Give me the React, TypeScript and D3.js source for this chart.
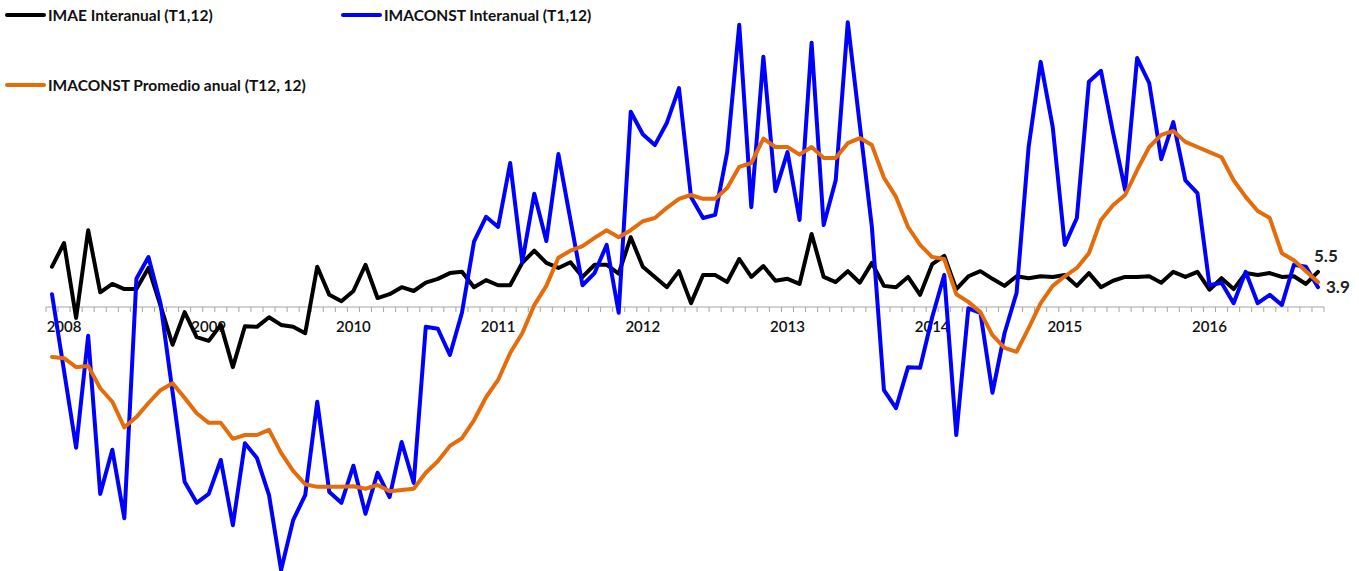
import { useEffect, useRef } from 'react';
import * as d3 from 'd3';

// monthly series, Jan 2008 .. Oct 2016
const imae = [
  6.3, 10.0, -1.7, 12.0, 2.3, 3.6, 2.8, 2.8, 6.1, 0.2, -5.9, -0.8,
  -4.7, -5.3, -2.8, -9.4, -3.0, -3.1, -1.6, -2.8, -3.1, -4.1, 6.3, 1.9,
  0.9, 2.5, 6.6, 1.4, 2.0, 3.1, 2.5, 3.8, 4.4, 5.3, 5.5, 3.1,
  4.2, 3.4, 3.4, 6.9, 8.8, 6.9, 6.1, 7.0, 4.7, 6.6, 6.6, 5.2,
  10.9, 6.3, 4.7, 3.1, 5.6, 0.6, 5.0, 5.0, 3.9, 7.5, 4.7, 6.4,
  4.1, 4.4, 3.6, 11.4, 4.7, 3.9, 5.6, 3.8, 6.9, 3.3, 3.1, 4.7,
  1.9, 6.7, 8.0, 2.8, 4.8, 5.6, 4.4, 3.3, 4.8, 4.5, 4.8, 4.7,
  5.0, 3.3, 5.3, 3.1, 4.1, 4.7, 4.7, 4.8, 3.8, 5.5, 4.7, 5.5,
  2.7, 4.5, 2.8, 5.3, 5.0, 5.3, 4.7, 4.8, 3.6, 5.5,
];

const imaconst = [
  2.0, -10.0, -22.0, -4.5, -29.2, -22.3, -33.0, 4.4, 7.8, 0.6, -13.3, -27.3,
  -30.6, -29.2, -23.9, -34.1, -21.3, -23.6, -29.4, -41.1, -33.3, -29.4, -14.8, -28.9,
  -30.6, -24.8, -32.3, -25.9, -29.7, -21.1, -27.5, -3.1, -3.4, -7.5, -0.9, 10.2,
  14.1, 12.5, 22.5, 7.0, 17.7, 10.3, 23.9, 13.6, 3.4, 5.3, 9.7, -0.9,
  30.5, 27.0, 25.3, 28.8, 34.2, 17.2, 13.9, 14.4, 24.2, 44.1, 15.6, 39.1,
  18.1, 24.2, 13.6, 41.3, 12.8, 19.8, 44.5, 28.4, 12.5, -13.0, -15.8, -9.4,
  -9.5, -1.6, 5.0, -20.0, -0.2, -0.9, -13.4, -4.1, 2.2, 25.0, 38.3, 28.1,
  9.7, 13.9, 35.2, 36.9, 27.3, 18.3, 38.9, 35.0, 23.1, 28.9, 19.8, 17.8,
  3.4, 3.8, 0.6, 5.5, 0.6, 1.9, 0.3, 6.6, 6.3, 3.1,
];

const imaconstProm = [
  -7.8, -8.0, -9.4, -9.2, -12.7, -14.8, -18.8, -17.2, -15.0, -13.0, -11.9, -14.2,
  -16.6, -18.1, -18.1, -20.6, -20.0, -20.0, -19.2, -22.8, -25.6, -27.7, -28.1, -28.1,
  -28.1, -28.0, -28.4, -27.8, -28.8, -28.6, -28.4, -25.9, -24.1, -21.7, -20.5, -17.7,
  -14.1, -11.4, -7.2, -4.1, 0.3, 3.3, 7.7, 8.8, 9.5, 10.8, 12.0, 10.9,
  12.0, 13.4, 13.9, 15.5, 16.9, 17.5, 16.9, 16.9, 18.6, 21.9, 22.5, 26.3,
  25.0, 25.0, 23.8, 25.0, 23.3, 23.3, 25.6, 26.4, 25.3, 20.2, 17.2, 12.5,
  9.7, 7.8, 7.5, 2.0, 0.8, -0.8, -4.4, -6.4, -7.0, -3.3, 0.6, 3.3,
  4.8, 6.1, 8.4, 13.6, 15.9, 17.5, 21.4, 25.0, 26.9, 27.5, 25.8, 25.0,
  24.2, 23.4, 19.8, 17.2, 15.0, 13.9, 8.4, 7.3, 5.6, 3.9,
];

const yearLabels = ['2008', '2009', '2010', '2011', '2012', '2013', '2014', '2015', '2016'];
const yearLabelIdx = [1, 13, 25, 37, 49, 61, 73, 84, 96];

const seriesNames = ['IMAE Interanual (T1,12)', 'IMACONST Interanual (T1,12)', 'IMACONST Promedio anual (T12, 12)'];
const seriesColors = ['#000000', '#0000ff', '#e46c0a'];

const W = 1359;
const H = 571;
const FONT = 'Lato, "Open Sans", sans-serif';

export default function App() {
  const svgRef = useRef<SVGSVGElement>(null);

  useEffect(() => {
    if (!svgRef.current) return;
    const svg = d3.select(svgRef.current);
    svg.selectAll('*').remove();

    const n = imae.length;
    const x = d3.scaleLinear().domain([0, n - 1]).range([52, 1318]);
    const y = d3.scaleLinear().domain([-45, 47]).range([307 + 45 * 6.4, 307 - 47 * 6.4]);

    // category axis at zero, ticks between months
    const ax = svg.append('g');
    ax.append('line')
      .attr('x1', x(-0.5)).attr('x2', x(n - 0.5))
      .attr('y1', y(0)).attr('y2', y(0))
      .attr('stroke', '#a6a6a6').attr('stroke-width', 1.2);
    ax.selectAll('.tick')
      .data(d3.range(n + 1))
      .enter().append('line')
      .attr('x1', d => x(d - 0.5)).attr('x2', d => x(d - 0.5))
      .attr('y1', y(0)).attr('y2', y(0) + 5)
      .attr('stroke', '#a6a6a6').attr('stroke-width', 1);

    ax.selectAll('.yr')
      .data(yearLabels)
      .enter().append('text')
      .attr('x', (_, i) => x(yearLabelIdx[i]))
      .attr('y', y(0) + 25)
      .attr('text-anchor', 'middle')
      .style('font-family', FONT)
      .style('font-size', '15px')
      .style('font-weight', 600)
      .style('fill', '#111')
      .text(d => d);

    const line = d3.line<number>()
      .x((_, i) => x(i))
      .y(d => y(d));

    [imae, imaconst, imaconstProm].forEach((data, k) => {
      svg.append('path')
        .datum(data)
        .attr('fill', 'none')
        .attr('stroke', seriesColors[k])
        .attr('stroke-width', 4)
        .attr('stroke-linejoin', 'round')
        .attr('stroke-linecap', 'round')
        .attr('d', line);
    });

    // end labels
    const last = n - 1;
    svg.append('text')
      .attr('x', x(last) - 4)
      .attr('y', y(imae[last]) - 10)
      .style('font-family', FONT)
      .style('font-size', '17px')
      .style('font-weight', 700)
      .style('fill', '#222')
      .text(imae[last].toFixed(1));
    svg.append('text')
      .attr('x', x(last) + 8)
      .attr('y', y(imaconstProm[last]) + 11)
      .style('font-family', FONT)
      .style('font-size', '17px')
      .style('font-weight', 700)
      .style('fill', '#222')
      .text(imaconstProm[last].toFixed(1));

    // legend
    const legendPos = [[7, 15], [343, 15], [7, 85]];
    seriesNames.forEach((name, k) => {
      const [lx, ly] = legendPos[k];
      const g = svg.append('g').attr('transform', `translate(${lx},${ly})`);
      g.append('line')
        .attr('x1', 0).attr('x2', 37)
        .attr('y1', 0).attr('y2', 0)
        .attr('stroke', seriesColors[k])
        .attr('stroke-width', 4)
        .attr('stroke-linecap', 'round');
      g.append('text')
        .attr('x', 41)
        .attr('y', 5.5)
        .style('font-family', FONT)
        .style('font-size', '15.5px')
        .style('font-weight', 700)
        .style('fill', '#111')
        .text(name);
    });
  }, []);

  return (
    <svg
      ref={svgRef}
      width={W}
      height={H}
      style={{ position: 'absolute', left: 0, top: 0, background: '#fff' }}
    />
  );
}
